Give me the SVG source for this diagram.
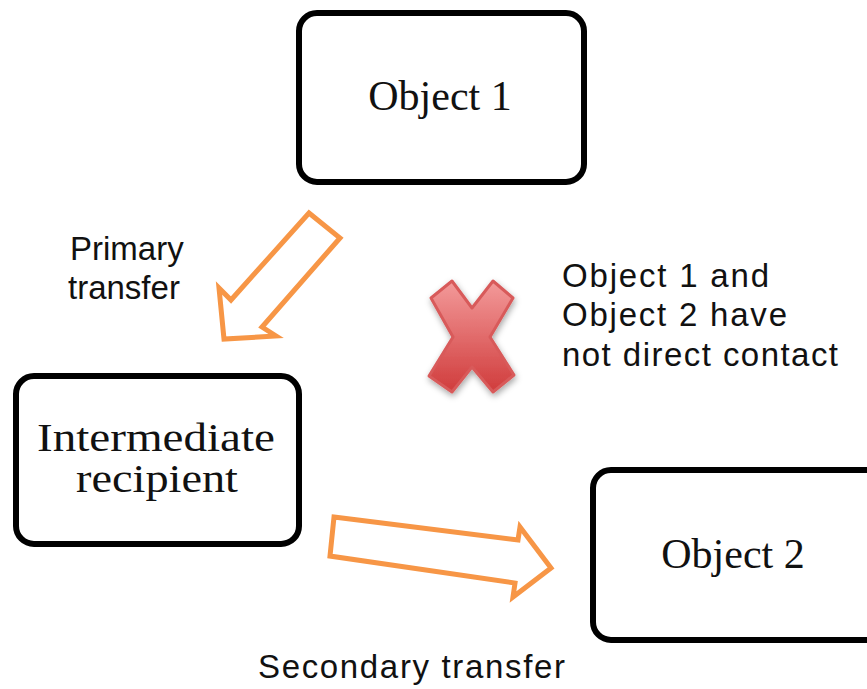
<svg xmlns="http://www.w3.org/2000/svg" width="867" height="689" viewBox="0 0 867 689">
  <style>
    .box { fill: #ffffff; stroke: #000000; stroke-width: 6; }
    .serif { font-family: "Liberation Serif", "Times New Roman", serif; font-size: 42px; fill: #111111; text-anchor: middle; }
    .serif2 { font-family: "Liberation Serif", "Times New Roman", serif; font-size: 39px; fill: #111111; }
    .sans { font-family: "Liberation Sans", Arial, sans-serif; font-size: 33px; fill: #111111; }
    .arrow { fill: #ffffff; stroke: #f79646; stroke-width: 5; stroke-linejoin: miter; }
  </style>
  <defs>
    <linearGradient id="xgrad" x1="0" y1="0" x2="0" y2="1">
      <stop offset="0" stop-color="#f39a9a"/>
      <stop offset="1" stop-color="#d03c3c"/>
    </linearGradient>
    <filter id="shadow" x="-30%" y="-30%" width="160%" height="160%">
      <feDropShadow dx="1" dy="3" stdDeviation="3" flood-color="#000000" flood-opacity="0.35"/>
    </filter>
  </defs>
  <rect width="867" height="689" fill="#ffffff"/>

  <g id="connectors">
    <polygon class="arrow" points="309,213 340,238 262,327 276,336 224,339 219,288 231,300"/>
    <polygon class="arrow" points="334,517 518,540 520,527 551,568 513,597 515,583 330,556"/>
  </g>

  <g id="object1">
    <rect class="box" x="299" y="13" width="285" height="169" rx="18" ry="18"/>
    <text class="serif" x="440" y="110">Object 1</text>
  </g>

  <g id="intermediate">
    <rect class="box" x="16" y="376" width="283" height="168" rx="18" ry="18"/>
    <text class="serif2" x="37" y="451" textLength="238" lengthAdjust="spacingAndGlyphs">Intermediate</text>
    <text class="serif2" x="76" y="492" textLength="162" lengthAdjust="spacingAndGlyphs">recipient</text>
  </g>

  <g id="object2">
    <rect class="box" x="593" y="470" width="290" height="170" rx="18" ry="18"/>
    <text class="serif" x="733" y="568">Object 2</text>
  </g>

  <g id="no-contact-mark">
    <polygon points="431,298 452,281 472,308 493,281 513,298 490,337 514,375 493,392 472,367 452,392 429,376 453,337"
             fill="url(#xgrad)" stroke="#d85a5a" stroke-width="3" stroke-linejoin="round" filter="url(#shadow)"/>
  </g>

  <g id="labels">
    <text class="sans" x="70" y="260">Primary</text>
    <text class="sans" x="68" y="299">transfer</text>
    <text class="sans" x="562" y="287" textLength="207" lengthAdjust="spacing">Object 1 and</text>
    <text class="sans" x="562" y="326" textLength="225" lengthAdjust="spacing">Object 2 have</text>
    <text class="sans" x="562" y="366" textLength="276" lengthAdjust="spacing">not direct contact</text>
    <text class="sans" x="258" y="678" textLength="307" lengthAdjust="spacing">Secondary transfer</text>
  </g>
</svg>
